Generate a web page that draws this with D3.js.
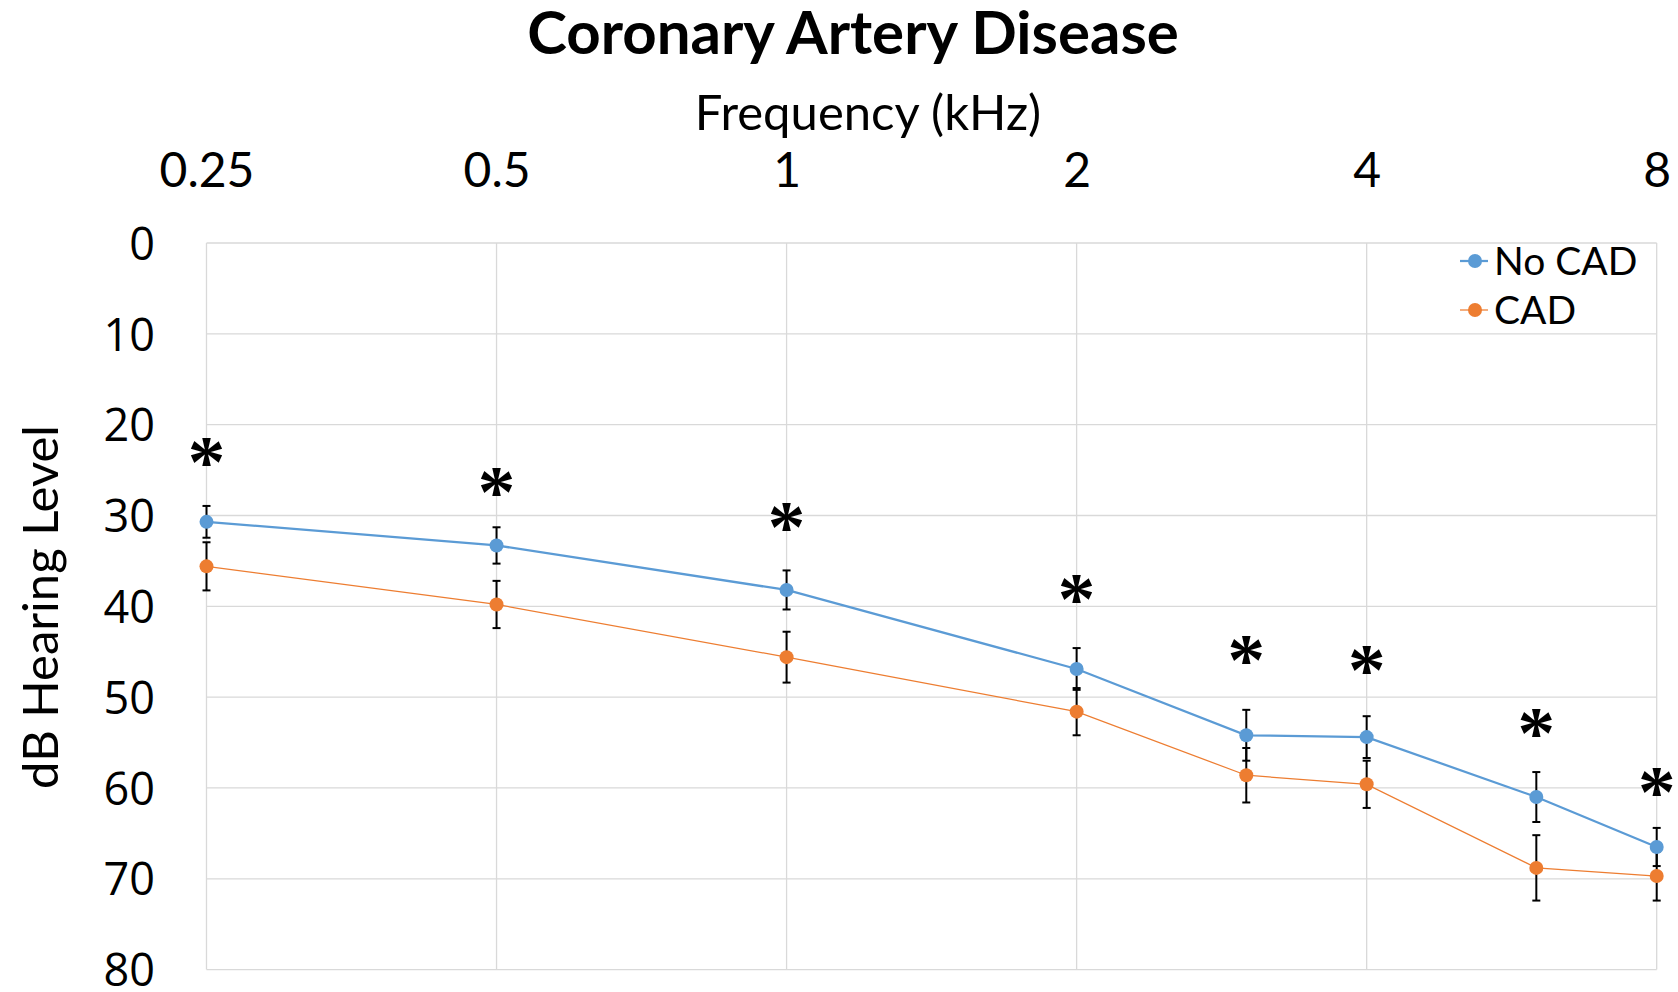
<!DOCTYPE html>
<html>
<head>
<meta charset="utf-8">
<script src="https://cdn.jsdelivr.net/npm/d3@7"></script>
<style>
  html, body { margin: 0; padding: 0; background: #fff; }
  svg { display: block; }
</style>
</head>
<body>
<svg id="chart" width="1678" height="992"></svg>
<script>
// ---- data ----
const frequencies = [0.25, 0.5, 1, 2, 3, 4, 6, 8];          // kHz
const xTickValues = [0.25, 0.5, 1, 2, 4, 8];
const xTickLabels = ["0.25", "0.5", "1", "2", "4", "8"];
const yTickValues = [0, 10, 20, 30, 40, 50, 60, 70, 80];
const seriesNames = ["No CAD", "CAD"];
const noCadValues = [30.7, 33.3, 38.2, 46.9, 54.2, 54.4, 61.0, 66.5];
const cadValues   = [35.6, 39.8, 45.6, 51.6, 58.6, 59.6, 68.8, 69.7];
const noCadErrors = [1.75, 2.0, 2.15, 2.3, 2.8, 2.3, 2.75, 2.1];
const cadErrors   = [2.65, 2.6, 2.8, 2.6, 3.0, 2.6, 3.6, 2.7];
const significant = [true, true, true, true, true, true, true, true];
const asteriskLevels = [23.3, 26.6, 30.5, 38.4, 45.2, 46.3, 53.2, 59.7]; // dB level of each "*" mark
const titleText = "Coronary Artery Disease";
const xAxisTitle = "Frequency (kHz)";
const yAxisTitle = "dB Hearing Level";

// ---- layout ----
const svg = d3.select("#chart");
const plot = { left: 206.5, right: 1656.7, top: 243, bottom: 969.6 };
const colors = { "No CAD": "#5B9BD5", "CAD": "#ED7D31" };
const widths = { "No CAD": 2.25, "CAD": 1.25 };

const x = d3.scaleLog().base(2).domain([0.25, 8]).range([plot.left, plot.right]);
const y = d3.scaleLinear().domain([0, 80]).range([plot.top, plot.bottom]);

const series = [
  { name: "No CAD", values: noCadValues, errors: noCadErrors },
  { name: "CAD", values: cadValues, errors: cadErrors }
].map(s => ({ ...s, points: frequencies.map((f, i) => ({ f, v: s.values[i], e: s.errors[i], i })) }));

// gridlines
const grid = svg.append("g").attr("class", "grid");
grid.selectAll("line.h").data(yTickValues).join("line")
  .attr("x1", plot.left).attr("x2", plot.right)
  .attr("y1", d => y(d)).attr("y2", d => y(d))
  .attr("stroke", "#d9d9d9").attr("stroke-width", 1.3);
grid.selectAll("line.v").data(xTickValues).join("line")
  .attr("y1", plot.top).attr("y2", plot.bottom)
  .attr("x1", d => x(d)).attr("x2", d => x(d))
  .attr("stroke", "#d9d9d9").attr("stroke-width", 1.3);

// x axis (top)
const xAxis = d3.axisTop(x).tickValues(xTickValues)
  .tickFormat((d, i) => xTickLabels[i]).tickSize(0).tickPadding(56);
const gx = svg.append("g").attr("transform", `translate(0,${plot.top})`).call(xAxis);
gx.select(".domain").remove();
gx.selectAll("text").attr("font-family", "Lato, 'Open Sans', sans-serif")
  .attr("font-size", 48).attr("fill", "#000");

// y axis (left)
const yAxis = d3.axisLeft(y).tickValues(yTickValues).tickSize(0).tickPadding(51.5);
const gy = svg.append("g").attr("transform", `translate(${plot.left},0)`).call(yAxis);
gy.select(".domain").remove();
gy.selectAll("text").attr("font-family", "'Open Sans', sans-serif")
  .attr("font-size", 45).attr("fill", "#000").attr("dy", "0.36em");

// titles
svg.append("text").attr("x", 853).attr("y", 53.5).attr("text-anchor", "middle")
  .attr("font-family", "Lato, sans-serif").attr("font-weight", 700).attr("font-size", 60)
  .text(titleText);
svg.append("text").attr("x", 868).attr("y", 129.5).attr("text-anchor", "middle")
  .attr("font-family", "Lato, sans-serif").attr("font-size", 49)
  .text(xAxisTitle);
svg.append("text").attr("transform", "translate(58,607) rotate(-90)").attr("text-anchor", "middle")
  .attr("font-family", "Lato, sans-serif").attr("font-size", 49)
  .text(yAxisTitle);

// error bars
const cap = 4;
const eb = svg.append("g").attr("class", "errorbars");
series.forEach(s => {
  const g = eb.append("g");
  g.selectAll("line.stem").data(s.points).join("line")
    .attr("x1", d => x(d.f)).attr("x2", d => x(d.f))
    .attr("y1", d => y(d.v - d.e)).attr("y2", d => y(d.v + d.e))
    .attr("stroke", "#000").attr("stroke-width", 2);
  g.selectAll("line.top").data(s.points).join("line")
    .attr("x1", d => x(d.f) - cap).attr("x2", d => x(d.f) + cap)
    .attr("y1", d => y(d.v - d.e)).attr("y2", d => y(d.v - d.e))
    .attr("stroke", "#000").attr("stroke-width", 2);
  g.selectAll("line.bot").data(s.points).join("line")
    .attr("x1", d => x(d.f) - cap).attr("x2", d => x(d.f) + cap)
    .attr("y1", d => y(d.v + d.e)).attr("y2", d => y(d.v + d.e))
    .attr("stroke", "#000").attr("stroke-width", 2);
});

// lines + markers
const line = d3.line().x(d => x(d.f)).y(d => y(d.v));
series.forEach(s => {
  svg.append("path").datum(s.points).attr("d", line)
    .attr("fill", "none").attr("stroke", colors[s.name]).attr("stroke-width", widths[s.name]);
});
series.forEach(s => {
  svg.append("g").selectAll("circle").data(s.points).join("circle")
    .attr("cx", d => x(d.f)).attr("cy", d => y(d.v)).attr("r", 7)
    .attr("fill", colors[s.name]);
});

// significance asterisks
const sigPts = frequencies.map((f, i) => ({ f, lvl: asteriskLevels[i], i })).filter(d => significant[d.i]);
svg.append("g").selectAll("text").data(sigPts).join("text")
  .attr("x", d => x(d.f)).attr("y", d => y(d.lvl))
  .attr("dy", "0.426em")
  .attr("text-anchor", "middle")
  .attr("font-family", "'Liberation Serif', serif").attr("font-weight", 700)
  .attr("font-size", 75).attr("fill", "#000")
  .text("*");

// legend
const legend = svg.append("g").attr("class", "legend");
const legendY = [261, 310];
seriesNames.forEach((name, i) => {
  const g = legend.append("g").attr("transform", `translate(1475,${legendY[i]})`);
  g.append("line").attr("x1", -15).attr("x2", 13).attr("y1", 0).attr("y2", 0)
    .attr("stroke", colors[name]).attr("stroke-width", widths[name]);
  g.append("circle").attr("r", 7).attr("fill", colors[name]);
  g.append("text").attr("x", 19).attr("dy", "0.36em")
    .attr("font-family", "Lato, sans-serif").attr("font-size", 39)
    .text(name);
});
</script>
</body>
</html>
